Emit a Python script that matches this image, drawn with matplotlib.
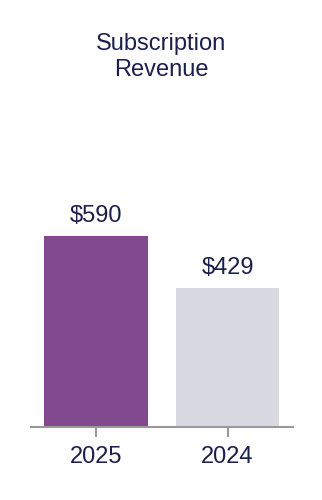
import matplotlib
matplotlib.use('Agg')
from matplotlib import pyplot as plt

plt.rcParams['font.family'] = ['Liberation Sans', 'DejaVu Sans']

years = ['2025', '2024']
revenue = [590, 429]
labels = ['$590', '$429']
colors = ['#83498F', '#D9DAE1']
text_color = '#1B1F4B'

fig = plt.figure(figsize=(3.22, 5.0), dpi=100)
# axes box in pixel terms: x 31..293, y 100..427 (from top)
ax = fig.add_axes([31 / 322, 73 / 500, 262 / 322, 327 / 500])

ax.bar(range(len(years)), revenue, width=0.79, color=colors)

# value labels, baseline ~14px above the bar top
for i, (v, lab) in enumerate(zip(revenue, labels)):
    ax.annotate(lab, (i, v), xytext=(0, 10), textcoords='offset points',
                ha='center', va='baseline', fontsize=17, color=text_color)

ax.set_xlim(-0.494, 1.498)
ax.set_ylim(0, 1010)

for s in ['top', 'right', 'left']:
    ax.spines[s].set_visible(False)
ax.spines['bottom'].set_color('#999999')
ax.spines['bottom'].set_linewidth(1.5)

ax.set_yticks([])
ax.set_xticks(range(len(years)))
ax.set_xticklabels(years, fontsize=17, color=text_color)
ax.tick_params(axis='x', length=7.5, width=1.5, color='#999999', pad=6)

# baseline of the last title line sits at ~75px from the top
fig.text(0.5, 1 - 75.5 / 500, 'Subscription\nRevenue', ha='center', va='baseline',
         fontsize=17, color=text_color, linespacing=1.2)

fig.savefig('out.png', dpi=100)
